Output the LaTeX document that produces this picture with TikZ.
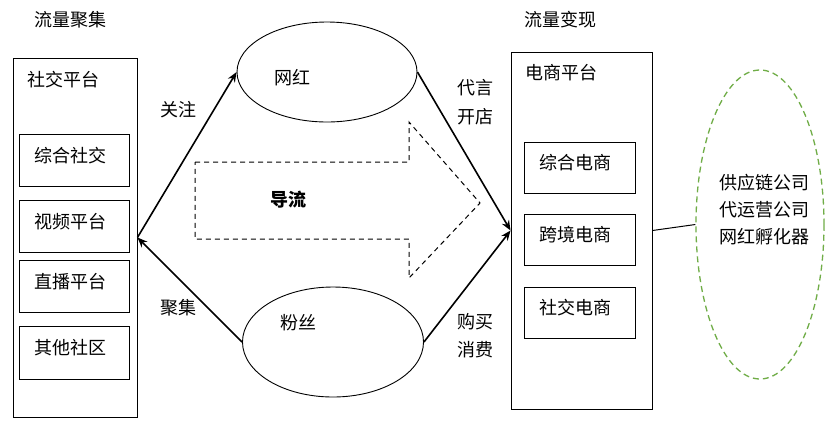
\documentclass[tikz,border=0pt]{standalone}
\usepackage{fontspec}
\setmainfont{Noto Sans CJK SC}
\usetikzlibrary{arrows.meta,shapes.geometric}
\definecolor{dashgreen}{RGB}{112,173,71}
\tikzset{
  box/.style={draw=black, line width=0.9pt, rectangle, inner sep=0pt},
  ell/.style={draw=black, line width=0.9pt, ellipse, inner sep=0pt},
  txt/.style={inner sep=0pt, font=\fontsize{18}{21}\selectfont},
  conn/.style={line width=1.6pt, -{Stealth[length=10pt,width=8pt]}},
}
\begin{document}
\begin{tikzpicture}[x=1pt,y=-1pt]
\useasboundingbox[fill=white] (0,0) rectangle (834,432);
% titles
\node[txt] (t1) at (70,20) {流量聚集};
\node[txt] (t2) at (560,20) {流量变现};
% left box
\node[box, minimum width=124pt, minimum height=359pt] (lbox) at (75,237.5) {};
\node[txt, anchor=west] (lt) at (27,80) {社交平台};
\node[box, minimum width=110pt, minimum height=52pt] (l1) at (74,160) {};
\node[box, minimum width=110pt, minimum height=52pt] (l2) at (74,226) {};
\node[box, minimum width=110pt, minimum height=52pt] (l3) at (74,286) {};
\node[box, minimum width=110pt, minimum height=53pt] (l4) at (74,352.5) {};
\node[txt] at (70,156) {综合社交};
\node[txt] at (70,222) {视频平台};
\node[txt] at (70,282) {直播平台};
\node[txt] at (70,348) {其他社区};
% right box
\node[box, minimum width=141pt, minimum height=357pt] (rbox) at (581.5,230.5) {};
\node[txt] (rt) at (561,73) {电商平台};
\node[box, minimum width=111pt, minimum height=51pt] (r1) at (579.5,167.5) {};
\node[box, minimum width=111pt, minimum height=51pt] (r2) at (579.5,239.5) {};
\node[box, minimum width=111pt, minimum height=51pt] (r3) at (579.5,312.5) {};
\node[txt] at (575.5,163) {综合电商};
\node[txt] at (575.5,235) {跨境电商};
\node[txt] at (575.5,308) {社交电商};
% ellipses
\node[ell, minimum width=180pt, minimum height=100pt] (wh) at (327,72) {};
\node[txt] at (292,78) {网红};
\node[ell, minimum width=181pt, minimum height=110pt] (fs) at (333,342) {};
\node[txt] at (298,323) {粉丝};
% green ellipse
\node[ellipse, draw=dashgreen, line width=1.3pt, dash pattern=on 6pt off 4pt,
      minimum width=128pt, minimum height=309pt, inner sep=0pt] (g) at (760,224.5) {};
\node[txt, align=center] at (764,210) {供应链公司\\[6pt]代运营公司\\[6pt]网红孵化器};
% dashed big arrow
\draw[line width=1pt, dash pattern=on 5pt off 4pt]
  (195,162) -- (409,162) -- (409,122) -- (480,203) -- (409,278) -- (409,239) -- (195,239) -- cycle;
\node[txt, font=\fontsize{18}{21}\selectfont\bfseries] at (288,200) {导流};
% connectors
\draw[conn] (fs.west) -- (lbox.east);
\draw[conn] (lbox.east) -- (wh.west);
\draw[conn] (wh.east) -- (rbox.west);
\draw[conn] (fs.east) -- (rbox.west);
\draw[line width=1pt] (rbox.east) -- (g.west);
% labels
\node[txt] at (178,110) {关注};
\node[txt] at (178,308) {聚集};
\node[txt] at (475,88) {代言};
\node[txt] at (475,117) {开店};
\node[txt] at (475,322) {购买};
\node[txt] at (475,350) {消费};
\end{tikzpicture}
\end{document}
